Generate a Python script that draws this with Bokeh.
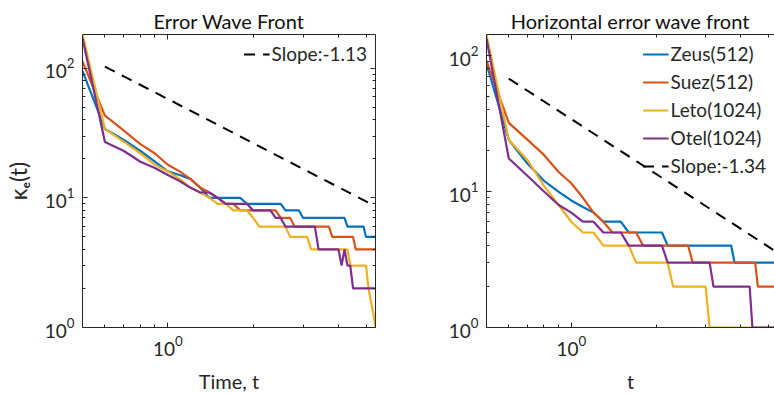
from bokeh.plotting import figure
from bokeh.layouts import row
from bokeh.models import (FixedTicker, LogTickFormatter, LogAxis, Range1d,
                          CustomJSTickFormatter)
from bokeh.embed import file_html
from bokeh.resources import INLINE

# ---------------- data ----------------
t = [0.5, 0.6, 0.7, 0.8, 0.9, 1.0, 1.1, 1.2, 1.3, 1.4,
     1.5, 1.6, 1.7, 1.8, 1.9, 2.0, 2.1, 2.2, 2.3, 2.4,
     2.5, 2.6, 2.7, 2.8, 2.9, 3.0, 3.1, 3.2, 3.3, 3.4,
     3.5, 3.6, 3.7, 3.8, 3.9, 4.0, 4.1, 4.2, 4.3, 4.4,
     4.5, 4.6, 4.7, 4.8, 4.9, 5.0, 5.1, 5.2, 5.3, 5.4]

# Error wave front (left panel)
zeus_all = [95, 34, 28, 23, 19, 16, 15, 14, 12, 10,
            10, 10, 10, 10, 9, 9, 9, 9, 9, 9,
            9, 8, 8, 8, 8, 7, 7, 7, 7, 7,
            7, 7, 7, 7, 7, 7, 7, 7, 6, 6,
            6, 6, 6, 6, 6, 5, 5, 5, 5, 5]
suez_all = [113, 43, 33, 26, 22, 18, 16, 14, 12, 11,
            10, 9, 9, 8, 8, 8, 8, 8, 8, 8,
            7, 7, 7, 6, 6, 6, 6, 6, 6, 6,
            6, 6, 6, 5, 5, 5, 5, 5, 5, 5,
            5, 4, 4, 4, 4, 4, 4, 4, 4, 4]
leto_all = [182, 34, 27, 22, 18, 16, 14, 12, 11, 10,
            9, 9, 8, 8, 8, 7, 6, 6, 6, 6,
            6, 6, 5, 5, 5, 5, 5, 4, 4, 4,
            4, 4, 4, 4, 4, 4, 4, 4, 4, 3,
            3, 3, 3, 3, 3, 3, 2, 1.6, 1.3, 1]
otel_all = [170, 27, 23, 19, 17, 15, 13.5, 12, 11, 11,
            10, 9, 9, 9, 9, 8, 8, 8, 8, 7,
            7, 6, 6, 6, 6, 6, 6, 6, 6, 4,
            4, 4, 4, 4, 4, 4, 3, 4, 3, 3,
            2, 2, 2, 2, 2, 2, 2, 2, 2, 2]
slope_all_t = [0.6, 5.4]
slope_all_k = [103, 8.6]

# Horizontal error wave front (right panel)
zeus_h = [87, 24, 16, 12, 10, 8.6, 7.7, 7, 6, 6,
          6, 5, 5, 5, 5, 5, 5, 4, 4, 4,
          4, 4, 4, 4, 4, 4, 4, 4, 4, 4,
          4, 4, 4, 3, 3, 3, 3, 3, 3, 3,
          3, 3, 3, 3, 3, 3, 3, 3, 3, 3]
suez_h = [92, 32, 24, 18.6, 14, 11.5, 9, 7, 6, 5,
          5, 5, 5, 4, 4, 4, 4, 4, 4, 4,
          4, 4, 3, 3, 3, 3, 3, 3, 3, 3,
          3, 3, 3, 3, 3, 3, 3, 3, 3, 3,
          3, 2, 2, 2, 2, 2, 2, 2, 2, 2]
leto_h = [142, 24, 17, 11, 8, 6, 5, 5, 4, 4,
          4, 4, 3, 3, 3, 3, 3, 3, 2, 2,
          2, 2, 2, 2, 2, 2, 1, 1, 1, 1,
          1, 1, 1, 1, 1, 1, 1, 1, 1, 1,
          1, 1, 1, 1, 1, 1, 1, 1, 1, 1]
otel_h = [133, 17.5, 13, 10, 8, 7, 6, 6, 5, 5,
          5, 4, 4, 4, 4, 4, 4, 3, 3, 3,
          3, 3, 3, 3, 3, 3, 3, 2, 2, 2,
          2, 2, 2, 2, 2, 2, 2, 2, 2, 1,
          1, 1, 1, 1, 1, 1, 1, 1, 1, 1]
slope_h_t = [0.6, 5.4]
slope_h_k = [67.7, 3.56]

names = ["Zeus(512)", "Suez(512)", "Leto(1024)", "Otel(1024)"]
colors = ["#0072BD", "#D95319", "#EDB120", "#7E2F8E"]

x_major = [1]
x_minor = [0.6, 0.7, 0.8, 0.9, 2, 3, 4, 5]
y_major = [1, 10, 100]
y_minor = [2, 3, 4, 5, 6, 7, 8, 9, 20, 30, 40, 50, 60, 70, 80, 90]

FONT = "Lato"
INK = "#262626"


def style_axis(ax, show_labels=True):
    ax.axis_line_color = INK
    ax.axis_line_width = 1
    ax.major_tick_line_color = INK
    ax.minor_tick_line_color = INK
    ax.major_tick_in = 5
    ax.major_tick_out = 0
    ax.minor_tick_in = 3
    ax.minor_tick_out = 0
    ax.major_label_text_font = FONT
    ax.major_label_text_color = INK
    if show_labels:
        ax.major_label_text_font_size = "19px"
        ax.major_label_standoff = 8
    else:
        ax.formatter = CustomJSTickFormatter(code="return '';")
        ax.major_label_text_font_size = "1px"
        ax.major_label_standoff = 0
    ax.axis_label_text_font = FONT
    ax.axis_label_text_font_size = "20px"
    ax.axis_label_text_font_style = "normal"
    ax.axis_label_text_color = INK


def make_panel(title, series, slope_t, slope_k, slope_name, names_in_legend,
               width, x_end, y_end, border_left, border_right, border_top,
               xlabel, ylabel, right_axis):
    p = figure(width=width, height=395, x_axis_type="log", y_axis_type="log",
               x_range=Range1d(0.5, x_end), y_range=Range1d(1, y_end),
               output_backend="svg", toolbar_location=None,
               min_border_left=border_left, min_border_right=border_right,
               min_border_top=border_top, min_border_bottom=68)
    p.outline_line_color = None
    p.grid.visible = False
    p.background_fill_color = "white"
    p.border_fill_color = "white"

    p.title.text = title
    p.title.align = "center"
    p.title.text_font = FONT
    p.title.text_font_size = "20px"
    p.title.text_font_style = "normal"
    p.title.text_color = "#111111"
    p.title.text_line_height = 1.0
    p.title.standoff = 3

    p.xaxis[0].ticker = FixedTicker(ticks=x_major, minor_ticks=x_minor)
    p.yaxis[0].ticker = FixedTicker(ticks=y_major, minor_ticks=y_minor)
    p.xaxis[0].formatter = LogTickFormatter()
    p.yaxis[0].formatter = LogTickFormatter()
    style_axis(p.xaxis[0])
    style_axis(p.yaxis[0])
    p.xaxis[0].axis_label = xlabel
    p.xaxis[0].axis_label_standoff = 10
    if ylabel:
        p.yaxis[0].axis_label = ylabel
        p.yaxis[0].axis_label_standoff = 10
        p.yaxis[0].axis_label_text_font_size = "23px"

    top = LogAxis(ticker=FixedTicker(ticks=x_major, minor_ticks=x_minor))
    style_axis(top, show_labels=False)
    p.add_layout(top, "above")
    if right_axis:
        rgt = LogAxis(ticker=FixedTicker(ticks=y_major, minor_ticks=y_minor))
        style_axis(rgt, show_labels=False)
        p.add_layout(rgt, "right")

    for vals, name, col in zip(series, names, colors):
        if names_in_legend:
            p.line(t, vals, line_color=col, line_width=2.2, legend_label=name)
        else:
            p.line(t, vals, line_color=col, line_width=2.2)
    p.line(slope_t, slope_k, line_color="black", line_width=2,
           line_dash="11 8", legend_label=slope_name)

    lg = p.legend[0]
    lg.location = "top_right"
    lg.border_line_color = None
    lg.background_fill_alpha = 0
    lg.label_text_font = FONT
    lg.label_text_font_size = "19px"
    lg.label_text_color = INK
    lg.glyph_width = 26
    lg.glyph_height = 20
    lg.label_height = 20
    lg.label_standoff = 2
    lg.spacing = 5
    lg.padding = 0
    lg.margin = 8
    return p


p1 = make_panel("Error Wave Front",
                [zeus_all, suez_all, leto_all, otel_all],
                slope_all_t, slope_all_k, "Slope:-1.13", False,
                420, 5.4, 182, 77, 45, 28, "Time, t", "κₑ(t)", True)
p2 = make_panel("Horizontal error wave front",
                [zeus_h, suez_h, leto_h, otel_h],
                slope_h_t, slope_h_k, "Slope:-1.34", True,
                354, 5.27, 143, 66, 0, 34, "t", None, False)

layout = row(p1, p2)
open("out.html", "w").write(file_html(layout, INLINE))
